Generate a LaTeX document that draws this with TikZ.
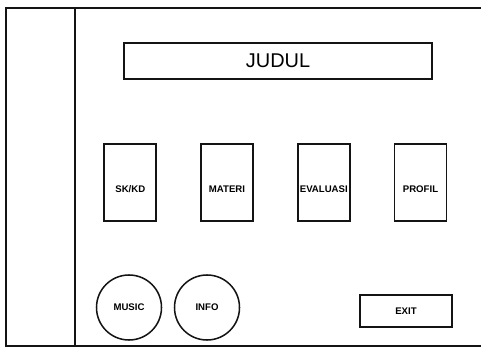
\documentclass[tikz,border=0pt]{standalone}
\usepackage{fontspec}
\setmainfont{Liberation Sans}
\usetikzlibrary{positioning}
\definecolor{frameink}{HTML}{141414}
\tikzset{
  screenline/.style={draw=frameink,line width=1.6pt},
  titlebox/.style={screenline,minimum width=9.24cm,minimum height=1.08cm,inner sep=0pt,font=\fontsize{17}{20}\selectfont},
  menubox/.style={screenline,minimum width=1.56cm,minimum height=2.31cm,inner sep=0pt},
  menulabel/.style={font=\fontsize{8.2}{10}\selectfont\bfseries,inner sep=0pt,yshift=-.21cm},
  roundbtn/.style={screenline,line width=1.3pt,circle,minimum size=1.95cm,inner sep=0pt,font=\fontsize{8.2}{10}\selectfont\bfseries},
  exitbox/.style={screenline,minimum width=2.76cm,minimum height=.96cm,inner sep=0pt,font=\fontsize{8.2}{10}\selectfont\bfseries}
}
\newcommand{\menubox}[3]{%
  \node[menubox,label={[menulabel]center:#3}] (#1) at (#2,182.5) {};
}

\begin{document}
\begin{tikzpicture}[x=.03cm,y=-.03cm]
        \useasboundingbox (0,0) rectangle (481,349);
        % screen frame and side bar
        \draw[screenline] (481,8) -- (6,8) -- (6,346) -- (481,346);
        \draw[screenline,line width=1.3pt] (75,8) -- (75,346);
        \node[titlebox] (judul) at (278,61) {JUDUL};
        \menubox{skkd}{130.3}{SK/KD}
        \menubox{materi}{227}{MATERI}
        \menubox{evaluasi}{323.8}{EVALUASI}
        \menubox{profil}{420.5}{PROFIL}
        \node[roundbtn] (music) at (129,307.5) {MUSIC};
        \node[roundbtn] (info) at (207,307.5) {INFO};
        \node[exitbox] (exit) at (406,311) {EXIT};
      \end{tikzpicture}
\end{document}
